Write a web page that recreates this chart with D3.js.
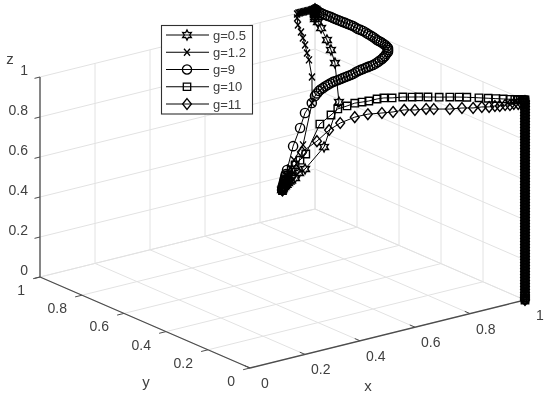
<!DOCTYPE html>
<html>
<head>
<meta charset="utf-8">
<script src="https://cdn.jsdelivr.net/npm/d3@7/dist/d3.min.js"></script>
<style>
html,body{margin:0;padding:0;background:#fff;}
svg{display:block;filter:blur(0.6px);}
text{font-family:"Liberation Sans",Arial,sans-serif;fill:#404040;}
</style>
</head>
<body>
<svg id="c" width="550" height="397"></svg>
<script>
const xTicks = [0, 0.2, 0.4, 0.6, 0.8, 1];
const yTicks = [0, 0.2, 0.4, 0.6, 0.8, 1];
const zTicks = [0, 0.2, 0.4, 0.6, 0.8, 1];
const seriesNames = ["g=0.5", "g=1.2", "g=9", "g=10", "g=11"];

const g05X = [.5,.505,.51,.515,.52,.53,.54,.55,.56,.58,.6,.65,.8,1,1,1,1,1,1,1,1,1,1,1,1,1,1,1,1];
const g05Y = [.502,.506,.511,.512,.514,.52,.526,.532,.538,.545,.552,.589,.695,.886,.905,.924,.943,.971,.986,1,1,1,1,1,1,1,1,1,1];
const g05Z = [.492,.493,.494,.497,.499,.5,.502,.503,.504,.505,.52,.506,.517,.587,.773,.83,.871,.918,.941,.95,.96,.97,.975,.98,.985,.99,.995,.998,1];

const g12X = [.5,.505,.51,.515,.522,.53,.545,.57,.6,.68,.9,.989,.978,.971,.964,.956,.949,.938,.935,.935,.94,.945,.95,.955,.96,.965,.97,.975,.98,.985,.99,.995,1];
const g12Y = [.502,.504,.508,.512,.52,.527,.538,.556,.576,.638,.883,1,1,1,1,1,1,1,1,1,1,1,1,1,1,1,1,1,1,1,1,1,1];
const g12Z = [.492,.504,.51,.517,.52,.525,.535,.553,.574,.594,.617,.664,.753,.79,.832,.87,.902,.941,.977,.997,1,1,1,1,1,1,1,1,1,1,1,1,1];

const g9X = [.5,.5025,.505,.5075,.51,.5125,.515,.5175,.52,.525,.55,.58,.62,.66,
  .68,.69,.7,.71,.72,.73,.74,.75,.76,.77,.78,.79,.8,.81,.82,.83,.84,.848,.855,.862,.87,.878,.885,.892,.9,.908,.915,.922,.93,.935,.94,.945,.95,.955,.96,.965,.97,.973,.976,.977,.978,.982,.985,.987,.989,.992,.994,.994,.993,.995,.997,.997,.996,.996,.995,.995,.994,.994,.994,.994,.993,.993,.992,.993,.993,.995,.997,.999,1];
const g9Y = [.502,.503,.504,.505,.506,.507,.508,.509,.51,.511,.515,.521,.55,.57,
  .581,.585,.588,.592,.595,.597,.598,.599,.6,.601,.602,.603,.605,.606,.607,.608,.61,.608,.605,.603,.601,.599,.597,.595,.593,.591,.589,.589,.589,.589,.588,.588,.587,.593,.6,.613,.627,.641,.655,.666,.676,.69,.704,.718,.733,.748,.763,.775,.786,.8,.815,.827,.838,.85,.861,.872,.883,.895,.906,.918,.929,.94,.951,.962,.972,.982,.991,.996,1];
const g9Z = [.492,.5,.509,.518,.527,.535,.544,.552,.561,.579,.688,.766,.814,.841,
  .864,.872,.88,.883,.885,.889,.892,.896,.899,.9,.901,.902,.903,.904,.905,.906,.907,.913,.919,.923,.926,.93,.933,.936,.939,.945,.951,.956,.961,.967,.973,.982,.99,.995,
  1,1,1,1,1,1,1,1,1,1,1,1,1,1,1,1,1,1,1,1,1,1,1,1,1,1,1,1,1,1,1,1,1,1,1,1,1];

const fall10Z = [.99,.975,.96,.945,.93,.915,.9,.885,.87,.855,.84,.825,.81,.795,.78,.765,.75,.735,.72,.705,.69,.675,.66,.645,.63,.615,.6,.585,.57,.555,.54,.525,.51,.495,.48,.465,.45,.435,.42,.405,.39,.375,.36,.345,.33,.315,.3,.285,.27,.255,.24,.225,.21,.195,.18,.165,.15,.135,.12,.105,.09,.075,.06,.045,.03,.02,.01,0];
const fall11Z = [.982,.967,.952,.937,.922,.907,.892,.877,.862,.847,.832,.817,.802,.787,.772,.757,.742,.727,.712,.697,.682,.667,.652,.637,.622,.607,.592,.577,.562,.547,.532,.517,.502,.487,.472,.457,.442,.427,.412,.397,.382,.367,.352,.337,.322,.307,.292,.277,.262,.247,.232,.217,.202,.187,.172,.157,.142,.127,.112,.097,.082,.067,.052,.037,.025,.015,.005,0];

const g10X = [.5,.501,.503,.507,.511,.518,.526,.536,.548,.577,.6,.614,.633,.649,.664,.678,.695,.709,.726,.748,.767,.781,.8,.823,.845,.864,.88,.905,.924,.94,.955,.969,.979,.986,.99,.994,.996,.998,1];
const g10Y = [.5,.499,.497,.493,.489,.482,.474,.464,.452,.423,.4,.386,.367,.351,.336,.322,.305,.291,.274,.252,.233,.219,.2,.177,.155,.136,.12,.095,.076,.06,.045,.031,.021,.014,.01,.006,.004,.002,0];
const g10Z = [.49,.507,.523,.543,.569,.595,.621,.646,.678,.831,.879,.911,.928,.944,.951,.958,.97,.977,.979,.986,.988,.99,.992,.994,.997,.999,1,1,1,1,1,1,1,1,1,1,1,1,1];

const g11X = [.5,.501,.505,.511,.518,.528,.54,.571,.596,.619,.649,.676,.705,.728,.751,.773,.796,.812,.845,.87,.893,.911,.926,.938,.948,.959,.969,.977,.986,.992,.996,1];
const g11Y = [.5,.499,.495,.489,.482,.472,.46,.429,.404,.381,.351,.324,.295,.272,.249,.227,.204,.188,.155,.13,.107,.089,.074,.062,.052,.041,.031,.023,.014,.008,.004,0];
const g11Z = [.49,.507,.523,.544,.564,.596,.687,.745,.803,.841,.874,.892,.901,.909,.922,.924,.932,.933,.937,.945,.948,.955,.957,.963,.964,.97,.971,.978,.979,.984,.99,.995];

// Oblique projection of the MATLAB view, expressed as scales.
const xToH = d3.scaleLinear().domain([0, 1]).range([0, 275]);
const xToV = d3.scaleLinear().domain([0, 1]).range([0, -68]);
const yToH = d3.scaleLinear().domain([0, 1]).range([0, -210]);
const yToV = d3.scaleLinear().domain([0, 1]).range([0, -91]);
const zToV = d3.scaleLinear().domain([0, 1]).range([0, -200]);
const originH = 250, originV = 368;
const proj = (x, y, z) => [originH + xToH(x) + yToH(y), originV + xToV(x) + yToV(y) + zToV(z)];

const svg = d3.select("#c");
const gridC = "#e2e2e2", axisC = "#4d4d4d";

function seg(parent, a, b, color, w) {
  const p = proj(...a), q = proj(...b);
  parent.append("line").attr("x1", p[0]).attr("y1", p[1]).attr("x2", q[0]).attr("y2", q[1])
    .attr("stroke", color).attr("stroke-width", w);
}

// Grid
const grid = svg.append("g");
xTicks.forEach(t => {
  seg(grid, [t, 0, 0], [t, 1, 0], gridC, 1);
  seg(grid, [t, 1, 0], [t, 1, 1], gridC, 1);
});
yTicks.forEach(t => {
  seg(grid, [0, t, 0], [1, t, 0], gridC, 1);
  seg(grid, [1, t, 0], [1, t, 1], gridC, 1);
});
zTicks.forEach(t => {
  seg(grid, [0, 1, t], [1, 1, t], gridC, 1);
  seg(grid, [1, 1, t], [1, 0, t], gridC, 1);
});

// Axes
const axes = svg.append("g");
seg(axes, [0, 1, 0], [0, 1, 1], axisC, 1.3);
seg(axes, [0, 1, 0], [0, 0, 0], axisC, 1.3);
seg(axes, [0, 0, 0], [1, 0, 0], axisC, 1.3);
zTicks.forEach(t => {
  seg(axes, [0, 1, t], [-0.02, 1, t], axisC, 1);
  const p = proj(0, 1, t);
  axes.append("text").attr("x", p[0] - 12).attr("y", p[1] - 2).attr("text-anchor", "end")
    .attr("font-size", 14).text(d3.format("~g")(t));
});
yTicks.forEach(t => {
  seg(axes, [0, t, 0], [-0.025, t, 0], axisC, 1);
  const p = proj(0, t, 0);
  axes.append("text").attr("x", p[0] - 15).attr("y", p[1] + 18).attr("text-anchor", "end")
    .attr("font-size", 14).text(d3.format("~g")(t));
});
xTicks.forEach(t => {
  seg(axes, [t, 0, 0], [t, 0.025, 0], axisC, 1);
  const p = proj(t, 0, 0);
  axes.append("text").attr("x", p[0] + (t === 0 || t === 1 ? 11 : 6)).attr("y", p[1] + 20).attr("text-anchor", "start")
    .attr("font-size", 14).text(d3.format("~g")(t));
});
axes.append("text").attr("x", 368).attr("y", 391).attr("text-anchor", "middle").attr("font-size", 15).text("x");
axes.append("text").attr("x", 146).attr("y", 387).attr("text-anchor", "middle").attr("font-size", 15).text("y");
axes.append("text").attr("x", 10).attr("y", 64).attr("text-anchor", "middle").attr("font-size", 15).text("z");

// Marker shapes
const closed = d3.line().curve(d3.curveLinearClosed);
const polar = (n, rFn, off) => d3.range(n).map(i => {
  const a = off + i * 2 * Math.PI / n;
  return [rFn(i) * Math.sin(a), -rFn(i) * Math.cos(a)];
});
const shapes = [
  closed(polar(12, i => (i % 2 ? 2.7 : 5), 0)),
  "M-3,-3.5L3,3.5M-3,3.5L3,-3.5",
  d3.symbol().type(d3.symbolCircle).size(Math.PI * 4.6 * 4.6)(),
  "M-3.7,-3.7H3.7V3.7H-3.7Z",
  "M0,-5.4L4.4,0L0,5.4L-4.4,0Z"
];

// Series
const lineGen = d3.line();
const allSeries = [
  [g05X, g05Y, g05Z],
  [g12X, g12Y, g12Z],
  [g9X, g9Y, g9Z],
  [g10X.concat(fall10Z.map(() => 1)), g10Y.concat(fall10Z.map(() => 0)), g10Z.concat(fall10Z)],
  [g11X.concat(fall11Z.map(() => 1)), g11Y.concat(fall11Z.map(() => 0)), g11Z.concat(fall11Z)]
];
allSeries.forEach((s, k) => {
  const pts = s[0].map((x, i) => proj(x, s[1][i], s[2][i]));
  const g = svg.append("g");
  g.append("path").attr("d", lineGen(pts)).attr("fill", "none").attr("stroke", "#000").attr("stroke-width", 1);
  g.selectAll("path.m").data(pts).join("path").attr("class", "m")
    .attr("d", shapes[k]).attr("transform", d => `translate(${d[0]},${d[1]})`)
    .attr("fill", "none").attr("stroke", "#000").attr("stroke-width", 1.4);
});

// Legend
const lg = svg.append("g");
lg.append("rect").attr("x", 161.5).attr("y", 25.5).attr("width", 91).attr("height", 88.5)
  .attr("fill", "#fff").attr("stroke", "#303030").attr("stroke-width", 1.1);
const legendRow = d3.scalePoint().domain(seriesNames).range([35, 104]);
seriesNames.forEach((n, k) => {
  const y = legendRow(n);
  lg.append("line").attr("x1", 166).attr("x2", 209).attr("y1", y).attr("y2", y).attr("stroke", "#000");
  lg.append("path").attr("d", shapes[k]).attr("transform", `translate(187,${y})`)
    .attr("fill", "none").attr("stroke", "#000").attr("stroke-width", 1.3);
  lg.append("text").attr("x", 213).attr("y", y + 4.5).attr("font-size", 13).text(n);
});
</script>
</body>
</html>
